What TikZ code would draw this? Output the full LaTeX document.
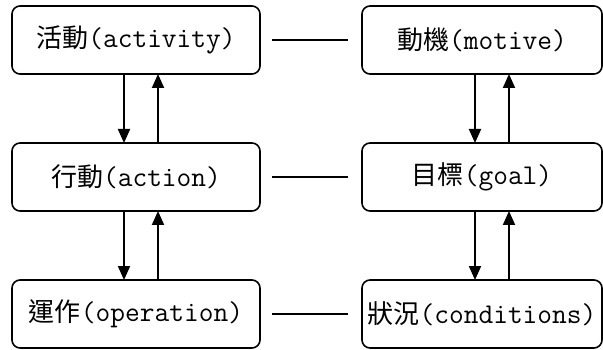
\documentclass[tikz,border=0pt]{standalone}
\usepackage{fontspec}
\setmonofont{Latin Modern Mono}[Scale=1.1]
\newfontfamily\cjk{Noto Sans CJK TC}
\usetikzlibrary{positioning, arrows.meta}

\begin{document}
\begin{tikzpicture}[
  lvl/.style={draw, rounded corners=8pt, minimum width=248pt, minimum height=68pt,
              line width=1.6pt, inner sep=0pt, outer sep=0pt, align=center,
              font=\fontsize{26pt}{30pt}\selectfont\ttfamily},
  rlvl/.style={lvl, minimum width=240pt},
  arr/.style={-{Triangle[length=14pt, width=12pt]}, line width=2pt},
  link/.style={line width=2pt},
]
\useasboundingbox (0pt,0pt) rectangle (603pt,-350pt);

% Left column
\node[lvl] (m1) at (136pt,-40pt) {{\cjk 活動}(activity)};
\node[lvl, below=69pt of m1] (m2) {{\cjk 行動}(action)};
\node[lvl, below=69pt of m2] (m3) {{\cjk 運作}(operation)};

% Right column
\node[rlvl, right=102pt of m1] (m4) {{\cjk 動機}(motive)};
\node[rlvl, right=102pt of m2] (m5) {{\cjk 目標}(goal)};
\node[rlvl, right=102pt of m3] (m6) {{\cjk 狀況}(conditions)};

% Links between columns
\draw[link] ([xshift=12pt]m1.east) -- ([xshift=-14pt]m4.west);
\draw[link] ([xshift=12pt]m2.east) -- ([xshift=-14pt]m5.west);
\draw[link] ([xshift=12pt]m3.east) -- ([xshift=-14pt]m6.west);

% Down and up arrows
\draw[arr] ([xshift=-12pt]m1.south) -- ([xshift=-12pt]m2.north);
\draw[arr] ([xshift=22pt]m2.north) -- ([xshift=22pt]m1.south);
\draw[arr] ([xshift=-12pt]m2.south) -- ([xshift=-12pt]m3.north);
\draw[arr] ([xshift=22pt]m3.north) -- ([xshift=22pt]m2.south);

\draw[arr] ([xshift=-7pt]m4.south) -- ([xshift=-7pt]m5.north);
\draw[arr] ([xshift=27pt]m5.north) -- ([xshift=27pt]m4.south);
\draw[arr] ([xshift=-7pt]m5.south) -- ([xshift=-7pt]m6.north);
\draw[arr] ([xshift=27pt]m6.north) -- ([xshift=27pt]m5.south);

\end{tikzpicture}
\end{document}
